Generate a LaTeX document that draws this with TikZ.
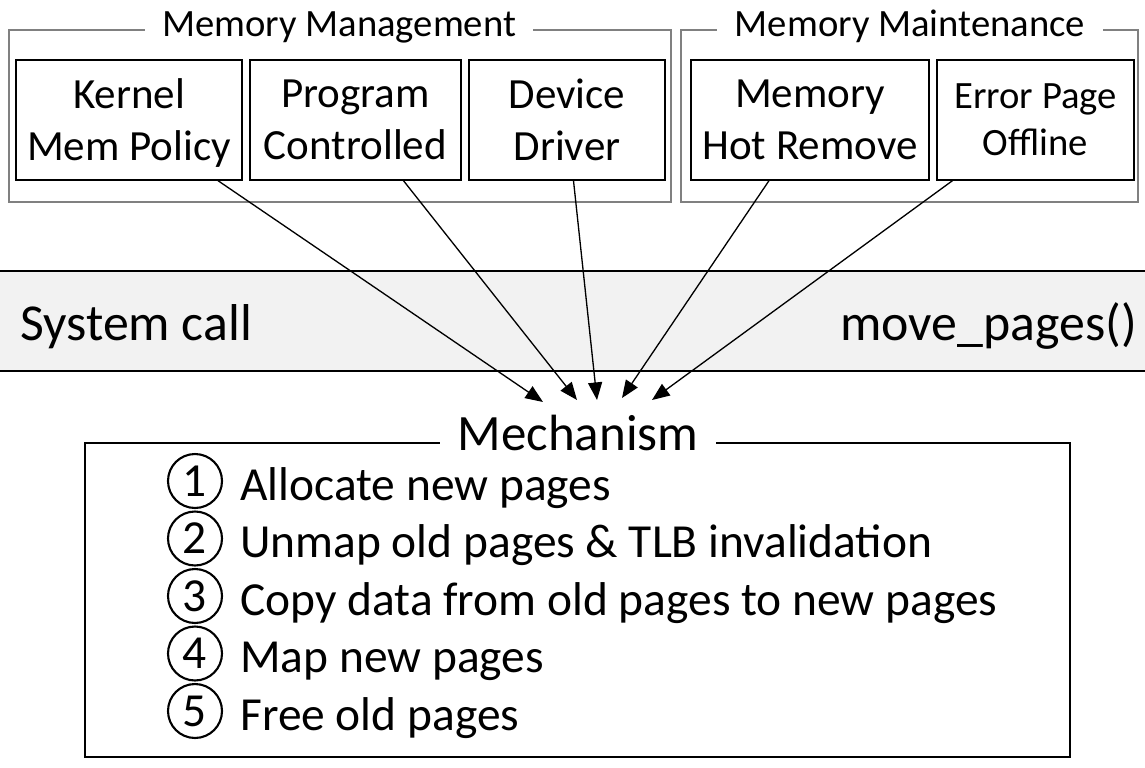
\documentclass[tikz,border=0pt]{standalone}
\usepackage{fontspec}
\setmainfont{Carlito}
\usetikzlibrary{arrows.meta,positioning}

\begin{document}
\begin{tikzpicture}[x=0.02cm, y=-0.02cm,
	srcbox/.style={rectangle, draw, line width=0.8pt, align=center, inner sep=0pt, minimum height=2.4cm, font=\fontsize{24.5}{29.5}\selectfont},
	grouptitle/.style={fill=white, inner xsep=0.35cm, inner ysep=2pt, anchor=base, font=\fontsize{22}{26}\selectfont},
	bandtext/.style={inner sep=0pt, font=\fontsize{29.5}{34}\selectfont},
	flow/.style={-{Triangle[length=10pt,width=8pt]}, line width=0.75pt},
	stepnum/.style={circle, draw, line width=1.2pt, minimum size=1.08cm, inner sep=0pt, font=\fontsize{27}{27}\selectfont},
	steptext/.style={anchor=base west, inner sep=0pt, font=\fontsize{27}{32}\selectfont}
	]
	\useasboundingbox (0,0) rectangle (1145,767);
	
	% system call band
	\fill[gray!10] (0,271) rectangle (1145,371);
	\draw[line width=0.75pt] (0,271) -- (1145,271);
	\draw[line width=0.75pt] (0,371) -- (1145,371);
	\node[bandtext, anchor=base west] (syscall) at (20,340) {System call};
	\node[bandtext, anchor=base east] (movepages) at (1137,340) {move\_pages()};
	
	% groups
	\draw[gray, line width=0.6pt] (9,30) rectangle (671,202);
	\draw[gray, line width=0.6pt] (681,30) rectangle (1138,202);
	\node[grouptitle] (mgmt) at (339,37) {Memory Management};
	\node[grouptitle] (maint) at (910,37) {Memory Maintenance};
	
	\node[srcbox, minimum width=4.52cm] (kernel) at (129,120) {Kernel\\Mem Polic\smash{y}};
	\node[srcbox, minimum width=4.22cm] (program) at (355.5,120) {Program\\Controlled};
	\node[srcbox, minimum width=3.92cm] (device) at (567,120) {Device\\Driver};
	\node[srcbox, minimum width=4.76cm] (hotremove) at (810,120) {Memory\\Hot Remove};
	\node[srcbox, minimum width=3.94cm, font=\fontsize{22}{26.6}\selectfont] (errpage) at (1035.5,120) {Error Page\\Offline};
	
	% arrow tips
	\coordinate (t1) at (543,402);
	\coordinate (t2) at (577,400);
	\coordinate (t3) at (597,400);
	\coordinate (t4) at (622,398);
	\coordinate (t5) at (652,400);
	\draw[flow] (kernel) -- (t1);
	\draw[flow] (program) -- (t2);
	\draw[flow] (device) -- (t3);
	\draw[flow] (hotremove) -- (t4);
	\draw[flow] (errpage) -- (t5);
	
	% mechanism
	\draw[line width=0.7pt] (85,443) rectangle (1070,757);
	\node[grouptitle, font=\fontsize{29}{34}\selectfont] (mech) at (578,450) {Mechanism};
	
	\node[stepnum] (n1) at (195,481) {1};
	\node[steptext] (s1) at (240,500) {Allocate new pages};
	\node[stepnum] (n2) at (195,538.5) {2};
	\node[steptext] (s2) at (240,557.5) {Unmap old pages \& TLB invalidation};
	\node[stepnum] (n3) at (195,596) {3};
	\node[steptext] (s3) at (240,615) {Copy data from old pages to new pages};
	\node[stepnum] (n4) at (195,653.5) {4};
	\node[steptext] (s4) at (240,672.5) {Map new pages};
	\node[stepnum] (n5) at (195,711) {5};
	\node[steptext] (s5) at (240,730) {Free old pages};
\end{tikzpicture}
\end{document}
